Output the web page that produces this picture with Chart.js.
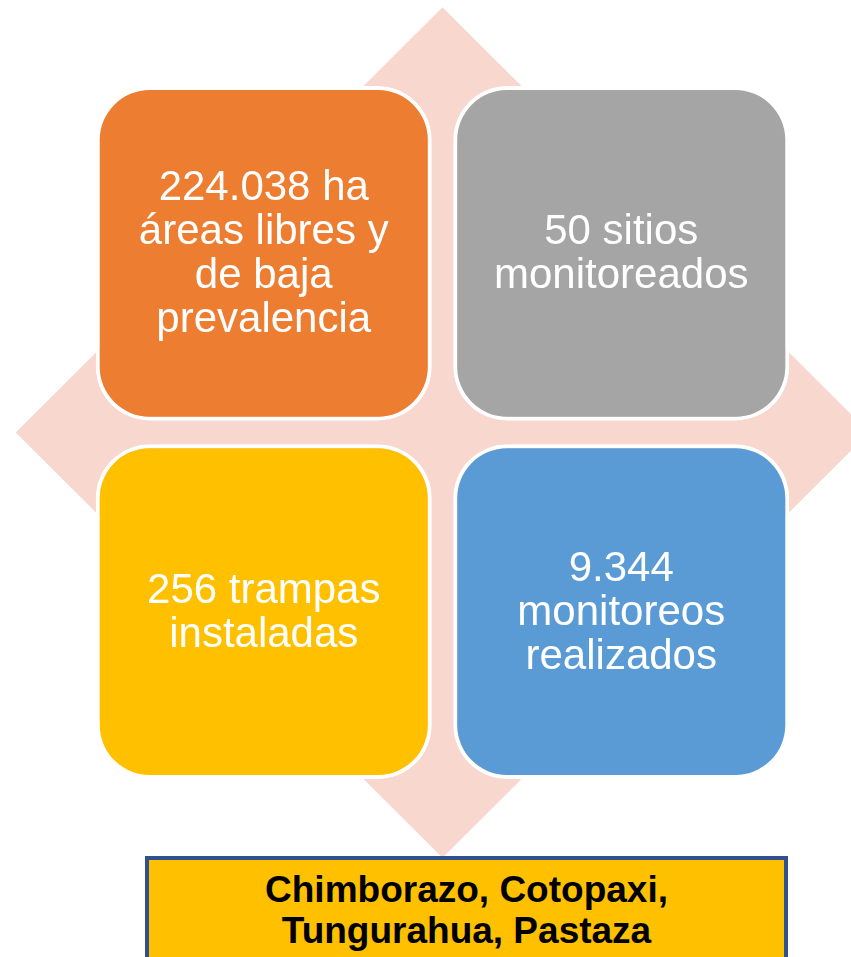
<!DOCTYPE html>
<html lang="es">
<head>
<meta charset="utf-8">
<title>Monitoreo</title>
<script src="https://cdn.jsdelivr.net/npm/chart.js@4/dist/chart.umd.min.js"></script>
<style>
  body { margin: 0; background: #ffffff; }
  #wrap { position: relative; width: 851px; height: 957px; overflow: hidden; }
  #provincias {
    position: absolute; left: 145px; top: 856px; width: 635px; height: 130px;
    border: 4px solid #2F528F; background: #FFC000; box-sizing: content-box;
    font-family: "Liberation Sans", Arial, sans-serif; font-weight: bold;
    font-size: 37px; line-height: 41px; text-align: center; color: #000;
    padding-top: 9px;
  }
</style>
</head>
<body>
<div id="wrap">
  <canvas id="diagrama" width="851" height="957"></canvas>
  <div id="provincias"></div>
</div>
<script>
// Datos del diagrama
var columnas = ["Izquierda", "Derecha"];
var filaSuperior = [[1.034, 2], [1.034, 2]];
var filaInferior = [[0, 0.966], [0, 0.966]];
var textosSuperior = [
    ["224.038 ha", "áreas libres y", "de baja", "prevalencia"],
    ["50 sitios", "monitoreados"],
];
var textosInferior = [
    ["256 trampas", "instaladas"],
    ["9.344", "monitoreos", "realizados"],
];
var coloresSuperior = ["#ED7D31", "#A5A5A5"];
var coloresInferior = ["#FFC000", "#5B9BD5"];
var provincias = ["Chimborazo, Cotopaxi,", "Tungurahua, Pastaza"];

document.getElementById("provincias").innerHTML = provincias.join("<br>");

// Rombo de fondo, dibujado desde las escalas
var romboPlugin = {
    id: "rombo",
    beforeDatasetsDraw: function (chart) {
        var ctx = chart.ctx;
        var x = chart.scales.x, y = chart.scales.y;
        var cx = x.getPixelForValue(0.5);
        var cy = y.getPixelForValue(1);
        var left = x.getPixelForValue(0.5 - 1.194);
        var right = x.getPixelForValue(0.5 + 1.194);
        var top = y.getPixelForValue(1 + 1.227);
        var bottom = y.getPixelForValue(1 - 1.227);
        ctx.save();
        ctx.fillStyle = "#F8D8CE";
        ctx.beginPath();
        ctx.moveTo(cx, top);
        ctx.lineTo(right, cy);
        ctx.lineTo(cx, bottom);
        ctx.lineTo(left, cy);
        ctx.closePath();
        ctx.fill();
        ctx.restore();
    },
};

// Textos blancos dentro de cada caja
var textosPlugin = {
    id: "textos",
    afterDatasetsDraw: function (chart) {
        var ctx = chart.ctx;
        var size = 42, lh = 44;
        ctx.save();
        ctx.fillStyle = "#ffffff";
        ctx.font = size + "px 'Liberation Sans', Arial, sans-serif";
        ctx.textAlign = "center";
        ctx.textBaseline = "alphabetic";
        chart.data.datasets.forEach(function (ds, di) {
            chart.getDatasetMeta(di).data.forEach(function (bar, i) {
                var lines = ds.textos[i];
                var cy = (bar.y + bar.base) / 2;
                var n = lines.length;
                lines.forEach(function (t, k) {
                    ctx.fillText(t, bar.x, cy + (k - (n - 1) / 2) * lh + size * 0.31);
                });
            });
        });
        ctx.restore();
    },
};

var ctx = document.getElementById("diagrama");

var config = {
    type: "bar",
    data: {
        labels: columnas,
        datasets: [
            {
                label: "Superior",
                data: filaSuperior,
                backgroundColor: coloresSuperior,
                textos: textosSuperior,
            },
            {
                label: "Inferior",
                data: filaInferior,
                backgroundColor: coloresInferior,
                textos: textosInferior,
            },
        ],
    },
    options: {
        responsive: false,
        animation: false,
        layout: { padding: { left: 85, right: 51, top: 86, bottom: 178 } },
        grouped: false,
        barPercentage: 0.94,
        categoryPercentage: 1,
        borderColor: "#ffffff",
        borderWidth: 4,
        borderRadius: 54,
        borderSkipped: false,
        inflateAmount: 0,
        scales: {
            x: { display: false },
            y: { display: false, min: 0, max: 2 },
        },
        plugins: {
            legend: { display: false },
            tooltip: { enabled: false },
        },
    },
    plugins: [romboPlugin, textosPlugin],
};

var diagrama = new Chart(ctx, config);
</script>
</body>
</html>
